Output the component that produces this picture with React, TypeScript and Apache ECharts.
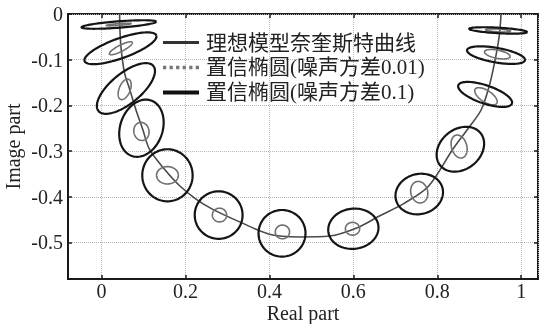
import React, { useEffect, useRef } from "react";
import * as echarts from "echarts";

// Ideal Nyquist curve (real, imaginary)
const curveX = [0.043, 0.044, 0.047, 0.055, 0.067, 0.082, 0.098, 0.114, 0.15, 0.186, 0.225, 0.264, 0.329, 0.4, 0.471, 0.543, 0.614, 0.662, 0.72, 0.779, 0.837, 0.874, 0.905, 0.926, 0.94, 0.948, 0.952];
const curveY = [0, -0.04, -0.08, -0.13, -0.165, -0.21, -0.252, -0.296, -0.34, -0.376, -0.405, -0.427, -0.455, -0.482, -0.488, -0.486, -0.466, -0.442, -0.415, -0.377, -0.296, -0.25, -0.209, -0.15, -0.09, -0.045, 0];

// Confidence ellipses, noise variance 0.1 (black)
const bigCx = [0.041, 0.045, 0.058, 0.095, 0.157, 0.279, 0.43, 0.6, 0.757, 0.855, 0.914, 0.94, 0.945];
const bigCy = [-0.023, -0.075, -0.163, -0.25, -0.353, -0.44, -0.48, -0.47, -0.394, -0.296, -0.176, -0.09, -0.036];
const bigRx = [0.089, 0.09, 0.082, 0.065, 0.06, 0.057, 0.056, 0.06, 0.057, 0.06, 0.067, 0.07, 0.069];
const bigRy = [0.007, 0.022, 0.034, 0.05, 0.057, 0.052, 0.051, 0.044, 0.044, 0.045, 0.02, 0.016, 0.006];
const bigAng = [4, 18, 36, 65, 0, 0, 0, 5, 10, 30, -17, -9, -3];

// Confidence ellipses, noise variance 0.01 (gray)
const smallCx = [0.041, 0.046, 0.055, 0.095, 0.157, 0.281, 0.431, 0.598, 0.757, 0.852, 0.916, 0.943, 0.945];
const smallCy = [-0.023, -0.075, -0.165, -0.257, -0.353, -0.44, -0.477, -0.47, -0.39, -0.29, -0.18, -0.088, -0.036];
const smallRx = [0.03, 0.03, 0.024, 0.018, 0.026, 0.017, 0.017, 0.017, 0.02, 0.018, 0.03, 0.031, 0.03];
const smallRy = [0.002, 0.007, 0.013, 0.02, 0.019, 0.015, 0.015, 0.014, 0.024, 0.026, 0.013, 0.009, 0.003];
const smallAng = [4, 25, 65, 20, 0, 0, 0, 0, 20, 20, -30, -10, -3];

const legendNames = ["理想模型奈奎斯特曲线", "置信椭圆(噪声方差0.01)", "置信椭圆(噪声方差0.1)"];
const xTicksStep = 0.2;
const yTicksStep = 0.1;

const SERIF = "'Liberation Serif', 'DejaVu Serif', serif";
const LEGEND_FONT = "'Liberation Serif', 'Noto Sans CJK SC', serif";

function ellipseRender(color: string, width: number) {
  return (params: any, api: any) => {
    const cx = api.value(0), cy = api.value(1), rx = api.value(2), ry = api.value(3);
    const a = (api.value(4) * Math.PI) / 180;
    const pts: number[][] = [];
    for (let i = 0; i <= 90; i++) {
      const t = (i / 90) * Math.PI * 2;
      const ex = rx * Math.cos(t), ey = ry * Math.sin(t);
      const x = cx + ex * Math.cos(a) - ey * Math.sin(a);
      const y = cy + ex * Math.sin(a) + ey * Math.cos(a);
      pts.push(api.coord([x, y]));
    }
    return { type: "polyline", shape: { points: pts }, style: { fill: "none", stroke: color, lineWidth: width } };
  };
}

function fmt(step: number) {
  return (v: number) => {
    const k = v / step;
    if (Math.abs(k - Math.round(k)) > 1e-6) return "";
    const r = Math.round(v * 100) / 100;
    return String(r === 0 ? 0 : r);
  };
}

export default function App() {
  const ref = useRef<HTMLDivElement>(null);
  useEffect(() => {
    if (!ref.current) return;
    const chart = echarts.init(ref.current, undefined, { renderer: "svg" });
    const bigData = bigCx.map((_, i) => [bigCx[i], bigCy[i], bigRx[i], bigRy[i], bigAng[i]]);
    const smallData = smallCx.map((_, i) => [smallCx[i], smallCy[i], smallRx[i], smallRy[i], smallAng[i]]);
    const curve = curveX.map((x, i) => [x, curveY[i]]);
    const mkLine = (show: boolean) => ({ show, onZero: false, lineStyle: { color: "#1a1a1a", width: 2 } });
    const mkTick = () => ({ show: true, inside: true, length: 4, lineStyle: { color: "#1a1a1a", width: 1.5 } });
    const mkSplit = () => ({ show: true, lineStyle: { color: "#b5b5b5", type: "dotted" as const, width: 1 } });
    chart.setOption({
      animation: false,
      grid: {
        left: 68, right: 1, top: 14, bottom: 45, outerBoundsMode: "none",
        show: true, borderColor: "#1a1a1a", borderWidth: 2,
      },
      legend: {
        orient: "vertical",
        left: 163,
        top: 32,
        padding: 0,
        itemGap: 4,
        itemWidth: 36,
        itemHeight: 4,
        textStyle: { fontFamily: LEGEND_FONT, fontSize: 21, color: "#222", padding: [0, 0, 0, 2] },
        data: [
          { name: legendNames[0], icon: "path://M0,0H36V3H0Z", itemStyle: { color: "#333" } },
          { name: legendNames[1], icon: "path://M0,0H3V3H0Z M6,0H9V3H6Z M12,0H15V3H12Z M18,0H21V3H18Z M24,0H27V3H24Z M30,0H33V3H30Z", itemStyle: { color: "#777" } },
          { name: legendNames[2], icon: "path://M0,0H36V4H0Z", itemStyle: { color: "#111" } },
        ],
      },
      xAxis: [
        {
          type: "value", min: -0.08, max: 1.04, position: "bottom",
          name: "Real part", nameLocation: "middle", nameGap: 24, nameMoveOverlap: false,
          nameTextStyle: { fontFamily: SERIF, fontSize: 20, color: "#222" },
          axisLine: mkLine(true), axisTick: mkTick(), splitLine: mkSplit(),
          axisLabel: { fontFamily: SERIF, fontSize: 20, color: "#222", margin: 2, formatter: fmt(xTicksStep) },
        },
        {
          type: "value", min: -0.08, max: 1.04, position: "top",
          axisLine: mkLine(false), axisTick: mkTick(), splitLine: { show: false }, axisLabel: { show: false },
        },
      ],
      yAxis: [
        {
          type: "value", min: -0.58, max: 0, position: "left",
          name: "Image part", nameLocation: "middle", nameGap: 45, nameMoveOverlap: false,
          nameTextStyle: { fontFamily: SERIF, fontSize: 20, color: "#222" },
          axisLine: mkLine(true), axisTick: mkTick(), splitLine: mkSplit(),
          axisLabel: { fontFamily: SERIF, fontSize: 20, color: "#222", margin: 5, formatter: fmt(yTicksStep) },
        },
        {
          type: "value", min: -0.58, max: 0, position: "right",
          axisLine: mkLine(false), axisTick: mkTick(), splitLine: { show: false }, axisLabel: { show: false },
        },
      ],
      series: [
        {
          name: legendNames[0], type: "line", data: curve, smooth: 0.3, showSymbol: false,
          lineStyle: { color: "#4a4a4a", width: 1.6 }, itemStyle: { color: "#333" }, z: 3,
        },
        {
          name: legendNames[1], type: "custom", data: smallData, encode: { x: 0, y: 1 },
          renderItem: ellipseRender("#707070", 1.6), itemStyle: { color: "#777" }, z: 4,
        },
        {
          name: legendNames[2], type: "custom", data: bigData, encode: { x: 0, y: 1 },
          renderItem: ellipseRender("#151515", 2.2), itemStyle: { color: "#111" }, z: 5,
        },
      ],
    });
    return () => chart.dispose();
  }, []);
  return <div ref={ref} style={{ position: "fixed", left: 0, top: 0, width: 539, height: 324 }} />;
}
